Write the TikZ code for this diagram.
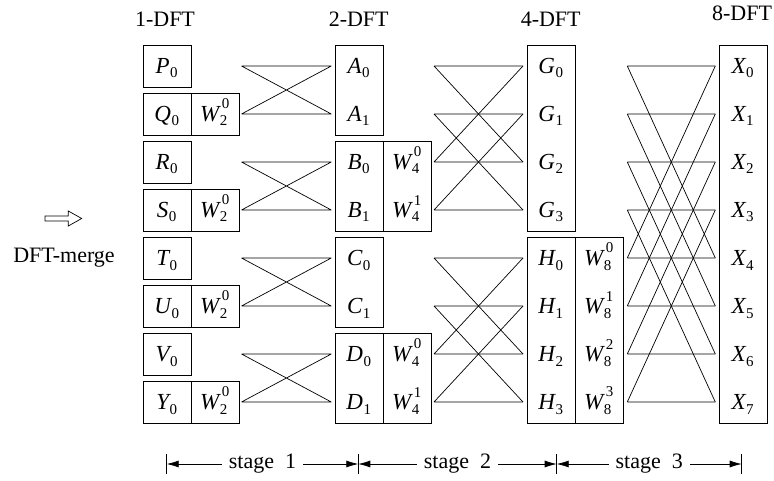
\documentclass[tikz,border=0pt]{standalone}
\usepackage{fontspec}
\setmainfont{Liberation Serif}
\usetikzlibrary{arrows.meta}
\newcommand{\symfont}{\fontsize{23}{23}\selectfont}
\newcommand{\idxfont}{\fontsize{15}{15}\selectfont}
\newcommand{\sy}[2]{{\symfont\itshape #1}\kern0.5pt\raisebox{-4.5pt}{\idxfont #2}}
\newcommand{\tw}[2]{{\symfont\itshape W}\kern0.5pt\raisebox{-4.5pt}{\idxfont\shortstack[l]{\kern2pt #2\\[4pt]#1}}}
\begin{document}
\begin{tikzpicture}[x=1pt,y=-1pt,
  box/.style={draw, line width=0.8pt, inner sep=0pt, anchor=north west, minimum width=48pt},
  lab/.style={anchor=base, inner sep=0pt},
  ttl/.style={anchor=base, inner sep=0pt, font=\fontsize{22}{22}\selectfont},
  conn/.style={line width=0.7pt},
  stagearrow/.style={conn, {Latex[length=12pt,width=7pt]}-{Latex[length=12pt,width=7pt]}},
  stagelab/.style={fill=white, inner xsep=7pt, inner ysep=1pt, font=\fontsize{22}{22}\selectfont}]
\useasboundingbox (0,0) rectangle (774,481);

% titles
\node[ttl] (t1) at (165,26.5) {1-DFT};
\node[ttl] (t2) at (358.7,26.5) {2-DFT};
\node[ttl] (t4) at (550.7,26.5) {4-DFT};
\node[ttl] (t8) at (742,21) {8-DFT};
\node[ttl] (merge) at (64,262) {DFT-merge};
\draw[line width=0.7pt] (45,216) -- (68.3,216) -- (68.3,211) -- (81.7,218.5) -- (68.3,226) -- (68.3,221) -- (45,221) -- cycle;

% column 1
\foreach \n [count=\c from 0] in {P,Q,R,S,T,U,V,Y} {
  \node[box, minimum height=42pt] (c1b\c) at (142.7, 45+48*\c) {};
  \node[lab] (c1t\c) at (166.7, 73.5+48*\c) {\sy{\n}{0}};
}
\foreach \c in {1,3,5,7} {
  \node[box, minimum height=42pt] (w1b\c) at (190.7, 45+48*\c) {};
  \node[lab] (w1t\c) at (214.7, 73.5+48*\c) {\tw{2}{0}};
}

% column 2
\foreach \n [count=\p from 0] in {A,B,C,D} {
  \node[box, minimum height=90pt] (c2b\p) at (334.7, 45+96*\p) {};
  \node[lab] (c2ta\p) at (358.7, 73.5+96*\p) {\sy{\n}{0}};
  \node[lab] (c2tb\p) at (358.7, 121.5+96*\p) {\sy{\n}{1}};
}
\foreach \p in {1,3} {
  \node[box, minimum height=90pt] (w2b\p) at (382.7, 45+96*\p) {};
  \node[lab] (w2ta\p) at (406.7, 73.5+96*\p) {\tw{4}{0}};
  \node[lab] (w2tb\p) at (406.7, 121.5+96*\p) {\tw{4}{1}};
}

% column 3
\node[box, minimum height=186pt] (c3g) at (526.7,45) {};
\node[box, minimum height=186pt] (c3h) at (526.7,237) {};
\node[box, minimum height=186pt] (w3) at (574.7,237) {};
\foreach \c in {0,...,3} {
  \node[lab] (c3tg\c) at (550.7, 73.5+48*\c) {\sy{G}{\c}};
  \node[lab] (c3th\c) at (550.7, 265.5+48*\c) {\sy{H}{\c}};
  \node[lab] (w3t\c) at (598.7, 265.5+48*\c) {\tw{8}{\c}};
}

% column 4
\node[box, minimum height=378pt] (c4) at (718.7,45) {};
\foreach \c in {0,...,7} {
  \node[lab] (c4t\c) at (742.7, 73.5+48*\c) {\sy{X}{\c}};
}

% connector end points
\foreach \c in {0,...,7} {
  \coordinate (aL\c) at (241.5, 66+48*\c);
  \coordinate (aR\c) at (331.3, 66+48*\c);
  \coordinate (bL\c) at (434, 66+48*\c);
  \coordinate (bR\c) at (523, 66+48*\c);
  \coordinate (cL\c) at (627.3, 66+48*\c);
  \coordinate (cR\c) at (715.3, 66+48*\c);
}
% stage 1
\foreach \p in {0,...,3} {
  \pgfmathtruncatemacro\a{2*\p}
  \pgfmathtruncatemacro\b{2*\p+1}
  \draw[conn] (aL\a) -- (aR\a) (aL\b) -- (aR\b) (aL\a) -- (aR\b) (aL\b) -- (aR\a);
}
% stage 2
\foreach \c in {0,...,7} {
  \pgfmathtruncatemacro\j{\c - mod(\c,4) + mod(\c+2,4)}
  \draw[conn] (bL\c) -- (bR\c) (bL\c) -- (bR\j);
}
% stage 3
\foreach \c in {0,...,7} {
  \pgfmathtruncatemacro\j{mod(\c+4,8)}
  \draw[conn] (cL\c) -- (cR\c) (cL\c) -- (cR\j);
}

% stage arrows
\coordinate (sb0) at (166.7,464);
\coordinate (sb1) at (358.3,464);
\coordinate (sb2) at (556.7,464);
\coordinate (sb3) at (741.7,464);
\foreach \s in {0,...,3} {
  \draw[conn] ([yshift=-10pt]sb\s) -- ([yshift=10pt]sb\s);
}
\draw[stagearrow] (sb0) -- (sb1) node[midway, stagelab] (st1) {stage\hspace{11pt}1};
\draw[stagearrow] (sb1) -- (sb2) node[midway, stagelab] (st2) {stage\hspace{11pt}2};
\draw[stagearrow] (sb2) -- (sb3) node[midway, stagelab] (st3) {stage\hspace{11pt}3};
\end{tikzpicture}
\end{document}
